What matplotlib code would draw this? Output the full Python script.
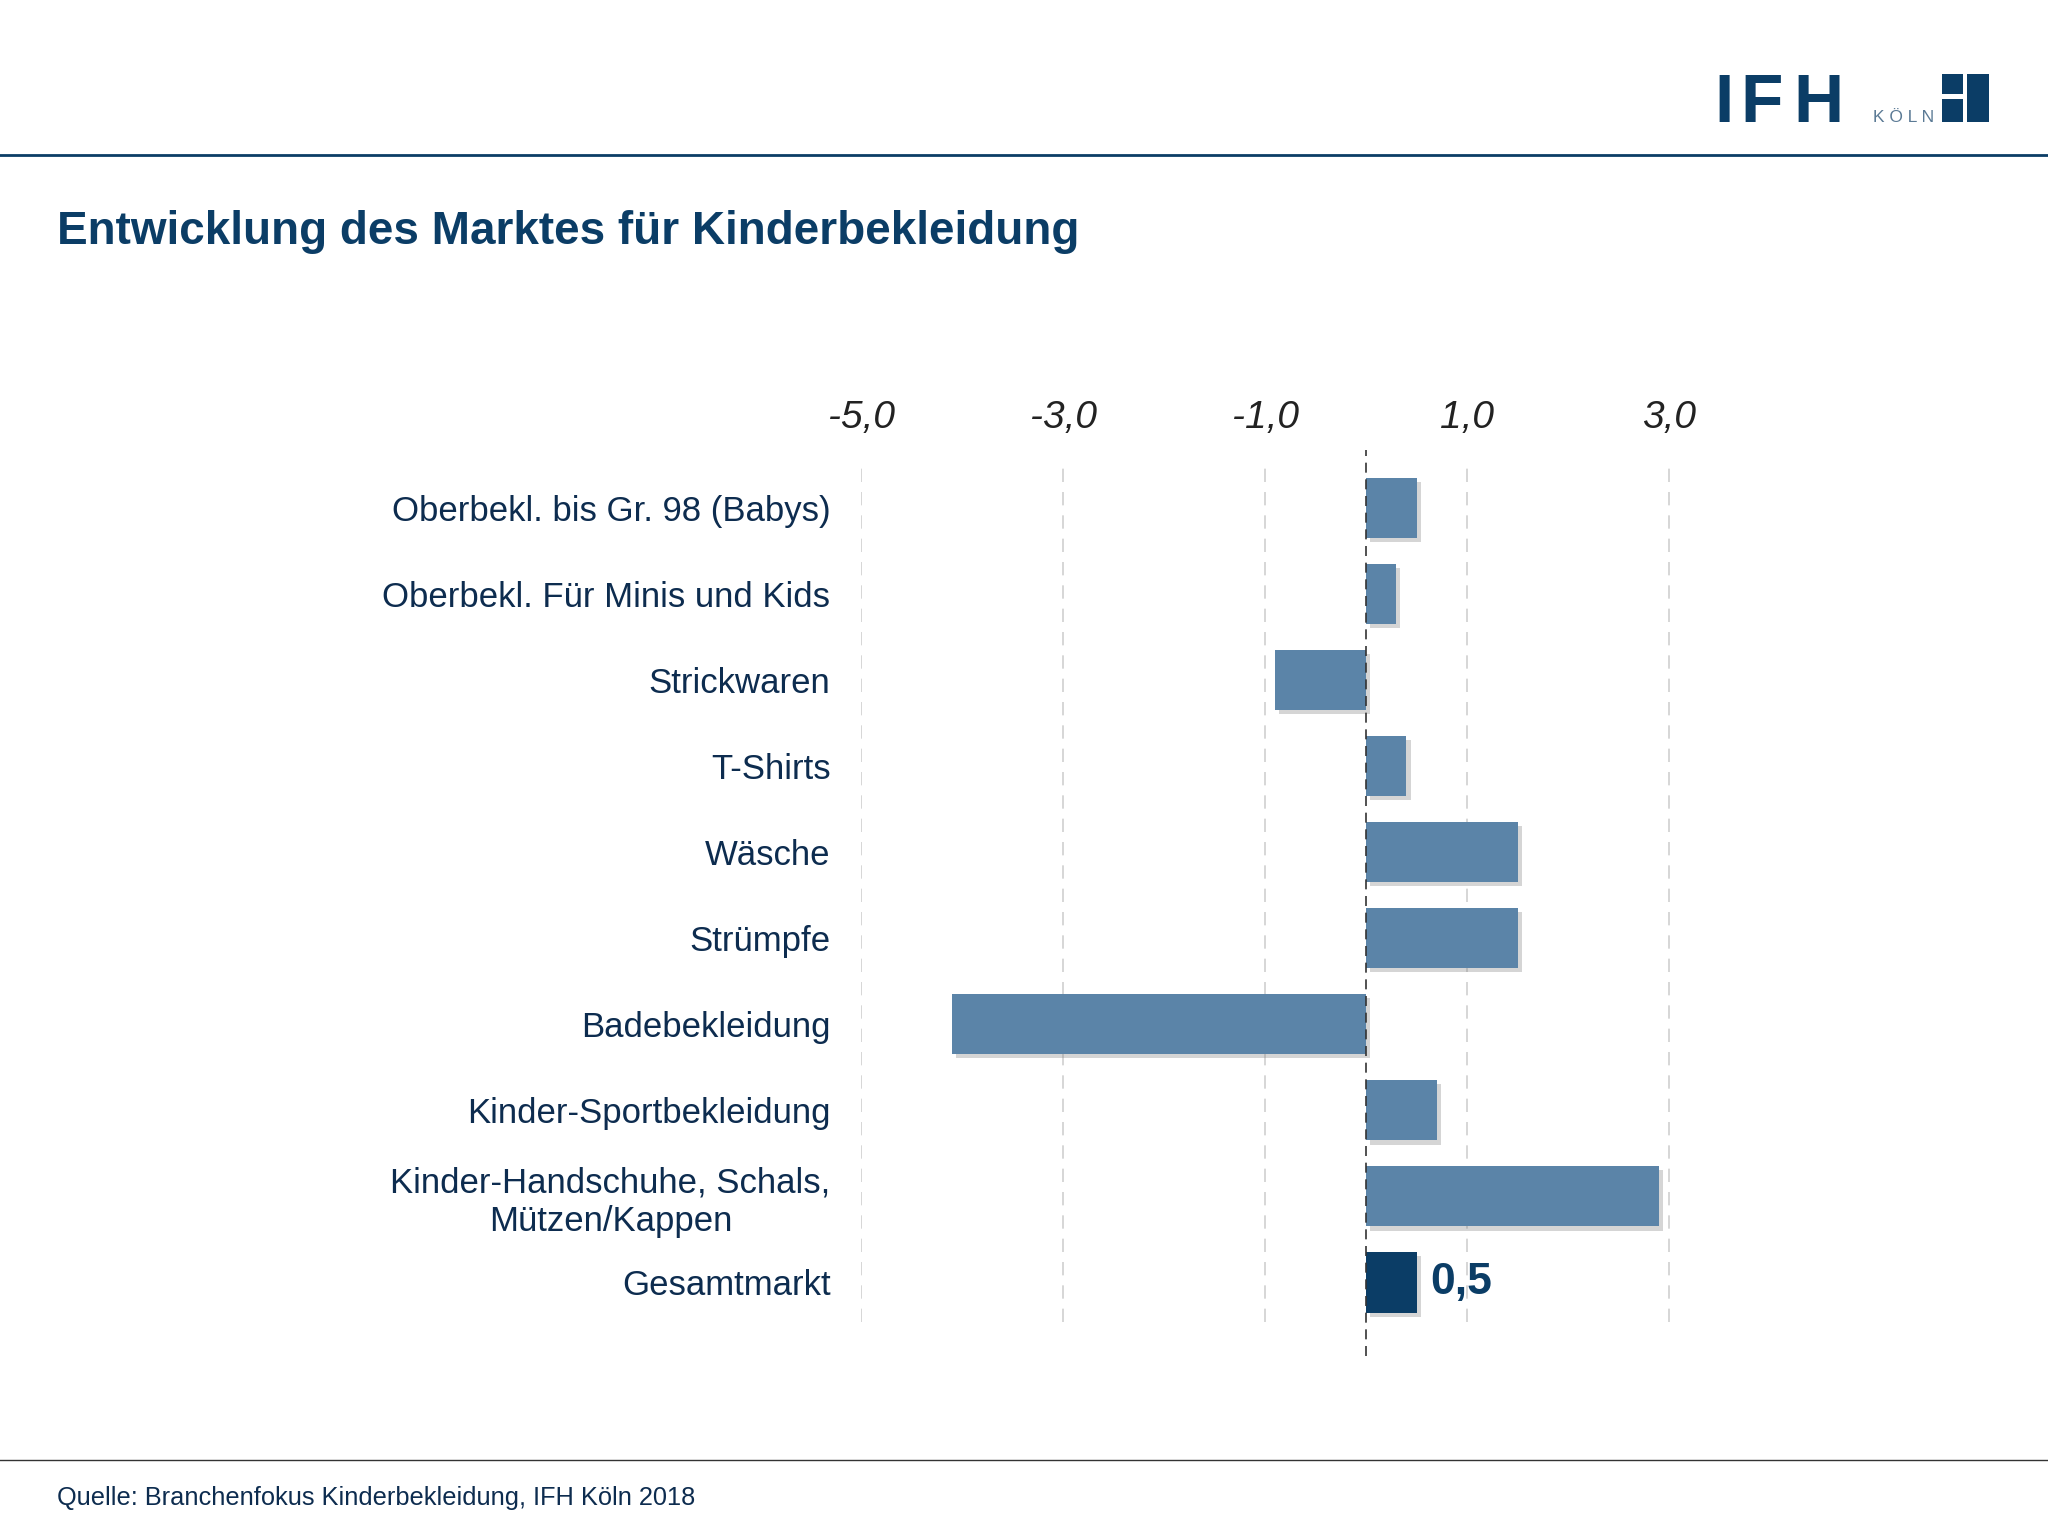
import matplotlib
matplotlib.use('Agg')
import matplotlib.pyplot as plt
import matplotlib.patheffects as pe
from matplotlib.patches import Rectangle

plt.rcParams['font.family'] = ['Liberation Sans', 'DejaVu Sans']

# data
categories = [
    'Oberbekl. bis Gr. 98 (Babys)',
    'Oberbekl. Für Minis und Kids',
    'Strickwaren',
    'T-Shirts',
    'Wäsche',
    'Strümpfe',
    'Badebekleidung',
    'Kinder-Sportbekleidung',
    'Kinder-Handschuhe, Schals,\nMützen/Kappen',
    'Gesamtmarkt',
]
values = [0.5, 0.3, -0.9, 0.4, 1.5, 1.5, -4.1, 0.7, 2.9, 0.5]
xticks = [-5, -3, -1, 1, 3]
xtick_labels = ['-5,0', '-3,0', '-1,0', '1,0', '3,0']
total_label = '0,5'

NAVY = '#0b3d66'
BAR = '#5b84a8'
TEXT = '#0d2c4f'

W, H = 2048, 1536
fig = plt.figure(figsize=(W / 100, H / 100), dpi=100)


def px(x0, y0, x1, y1):
    return [x0 / W, 1 - y1 / H, (x1 - x0) / W, (y1 - y0) / H]


# header line + logo
fig.add_artist(plt.Line2D([0, 1], [1 - 155 / H] * 2, color=NAVY, lw=2))
for letter, x in [('I', 1714), ('F', 1740), ('H', 1793)]:
    fig.text(x / W, 1 - 122 / H, letter, fontsize=50, fontweight='bold', color=NAVY,
             ha='left', va='baseline')
fig.text(1873 / W, 1 - 122 / H, 'K Ö L N', fontsize=12.5, color='#5b7a95',
         ha='left', va='baseline')
for (x0, y0, x1, y1) in [(1942, 74, 1963, 94), (1942, 99, 1963, 122), (1967, 74, 1989, 122)]:
    fig.add_artist(Rectangle((x0 / W, 1 - y1 / H), (x1 - x0) / W, (y1 - y0) / H,
                             transform=fig.transFigure, color=NAVY, lw=0))

# title
fig.text(57 / W, 1 - 232 / H, 'Entwicklung des Marktes für Kinderbekleidung',
         fontsize=33, fontweight='bold', color=NAVY, ha='left', va='center')

# footer
fig.add_artist(plt.Line2D([0, 1], [1 - 1460 / H] * 2, color='#333333', lw=1))
fig.text(57 / W, 1 - 1498 / H, 'Quelle: Branchenfokus Kinderbekleidung, IFH Köln 2018',
         fontsize=18.3, color=TEXT, ha='left', va='center')

# chart
xmin, xmax = -5, 3.3
left = 861
right = left + (xmax - xmin) * 101
ax = fig.add_axes(px(left, 450, right, 1322))
ax.set_xlim(xmin, xmax)
ax.set_ylim(9.46, -0.67)

colors = [BAR] * (len(values) - 1) + [NAVY]
bars = ax.barh(range(len(values)), values, height=0.7, color=colors, zorder=3)
for b in bars:
    b.set_path_effects([pe.SimplePatchShadow(offset=(3, -3), shadow_rgbFace='#777777', alpha=0.3),
                        pe.Normal()])

for x in xticks:
    ax.axvline(x, ymin=0, ymax=0.985, color='#d0d0d0', lw=1.2, ls=(0, (8, 6)), zorder=1)
ax.axvline(0, ymin=-0.039, ymax=1.0, color='#333333', lw=1.2, ls=(0, (6, 4)),
           zorder=4, clip_on=False)

ax.annotate(total_label, xy=(values[-1], len(values) - 1), xytext=(10, 0),
            textcoords='offset points', fontsize=32, fontweight='bold', color=NAVY,
            ha='left', va='center')

ax.xaxis.tick_top()
ax.set_xticks(xticks)
ax.set_xticklabels(xtick_labels, fontsize=28, style='italic', color='#222222')
ax.tick_params(axis='x', length=0, pad=10)
ax.set_yticks(range(len(categories)))
ax.set_yticklabels(categories, fontsize=25, color=TEXT, multialignment='center')
ax.tick_params(axis='y', length=0, pad=22)
for s in ax.spines.values():
    s.set_visible(False)

fig.savefig('out.png', dpi=100)
